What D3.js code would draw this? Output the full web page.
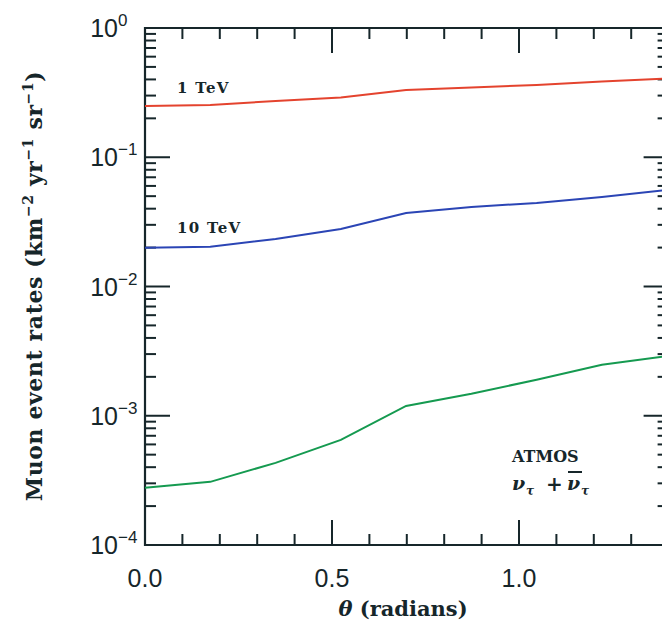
<!DOCTYPE html>
<html><head><meta charset="utf-8">
<script src="https://cdn.jsdelivr.net/npm/d3@7"></script>
<style>body{margin:0;background:#fff}svg{display:block}</style>
</head><body>
<svg id="c" width="662" height="622"></svg>
<script>
const theta = [0, 0.1745, 0.3491, 0.5236, 0.6981, 0.8727, 1.0472, 1.2217, 1.3963];
const rate1TeV  = [0.249, 0.254, 0.272, 0.290, 0.331, 0.347, 0.362, 0.386, 0.407];
const rate10TeV = [0.0199, 0.0203, 0.0233, 0.0279, 0.0371, 0.0413, 0.0443, 0.0493, 0.0558];
const rateLow   = [0.000277, 0.000308, 0.000432, 0.00065, 0.00119, 0.00148, 0.0019, 0.00248, 0.0029];
const seriesNames = ["1 TeV", "10 TeV", ""];
const xTickLabels = ["0.0", "0.5", "1.0"];
const yTickExps = ["0", "−1", "−2", "−3", "−4"];

const svg = d3.select("#c");
const x = d3.scaleLinear().domain([0, 1.4]).range([145, 668.6]);
const y = d3.scaleLog().domain([1e-4, 1]).range([545, 28]);
const axisCol = "#16262a";

// frame
const [x0, x1] = x.range(), [yb, yt] = y.range();
svg.append("path").attr("d", `M${x1},${yt}H${x0}V${yb}H${x1}V${yt}`)
  .attr("fill", "none").attr("stroke", axisCol).attr("stroke-width", 2.2);

// y ticks
const yMajor = [1, 0.1, 0.01, 0.001, 0.0001];
const yMinor = [];
[0.0001, 0.001, 0.01, 0.1].forEach(d => { for (let k = 2; k <= 9; k++) yMinor.push(d * k); });
const tg = svg.append("g").attr("stroke", axisCol).attr("stroke-width", 2);
yMajor.forEach(v => {
  tg.append("line").attr("x1", x0).attr("x2", x0 + 25).attr("y1", y(v)).attr("y2", y(v));
  tg.append("line").attr("x1", x1).attr("x2", x1 - 25).attr("y1", y(v)).attr("y2", y(v));
});
yMinor.forEach(v => {
  tg.append("line").attr("x1", x0).attr("x2", x0 + 11).attr("y1", y(v)).attr("y2", y(v));
  tg.append("line").attr("x1", x1).attr("x2", x1 - 11).attr("y1", y(v)).attr("y2", y(v));
});
// x ticks
const xMajor = [0, 0.5, 1.0];
const xMinor = d3.range(1, 14).map(i => i / 10).filter(v => Math.abs(v - 0.5) > 1e-6 && Math.abs(v - 1) > 1e-6);
xMajor.forEach(v => {
  tg.append("line").attr("x1", x(v)).attr("x2", x(v)).attr("y1", yb).attr("y2", yb - 25);
  tg.append("line").attr("x1", x(v)).attr("x2", x(v)).attr("y1", yt).attr("y2", yt + 25);
});
xMinor.forEach(v => {
  tg.append("line").attr("x1", x(v)).attr("x2", x(v)).attr("y1", yb).attr("y2", yb - 11);
  tg.append("line").attr("x1", x(v)).attr("x2", x(v)).attr("y1", yt).attr("y2", yt + 11);
});

// tick labels
const numFont = "'Liberation Sans', Arial, sans-serif";
xMajor.forEach((v, i) => {
  svg.append("text").attr("x", x(v)).attr("y", 587).attr("text-anchor", "middle")
    .attr("font-family", numFont).attr("font-size", 25).attr("fill", axisCol).text(xTickLabels[i]);
});
yMajor.forEach((v, i) => {
  svg.append("text").attr("x", 118).attr("y", y(v) + 9).attr("text-anchor", "end")
    .attr("font-family", numFont).attr("font-size", 25).attr("fill", axisCol).text("10");
  svg.append("text").attr("x", 118).attr("y", y(v) - 2).attr("text-anchor", "start")
    .attr("font-family", numFont).attr("font-size", 17).attr("fill", axisCol).text(yTickExps[i]);
});

// lines
const serif = "'DejaVu Serif', serif";
const line = d3.line().x((d, i) => x(theta[i])).y(d => y(d));
const series = [
  {vals: rate1TeV, color: "#e4432e"},
  {vals: rate10TeV, color: "#2b45b5"},
  {vals: rateLow, color: "#159a50"}
];
series.forEach(s => {
  svg.append("path").datum(s.vals).attr("d", line).attr("fill", "none")
    .attr("stroke", s.color).attr("stroke-width", 2);
});

// series labels
svg.append("text").attr("x", 177).attr("y", 93).attr("font-family", serif).attr("font-weight", "bold")
  .attr("font-size", 15).attr("letter-spacing", 1.3).attr("fill", axisCol).text(seriesNames[0]);
svg.append("text").attr("x", 177).attr("y", 233).attr("font-family", serif).attr("font-weight", "bold")
  .attr("font-size", 15).attr("letter-spacing", 1.3).attr("fill", axisCol).text(seriesNames[1]);

// ATMOS annotation
svg.append("text").attr("x", 512).attr("y", 462).attr("font-family", serif).attr("font-weight", "bold")
  .attr("font-size", 16).attr("fill", axisCol).text("ATMOS");
const nuG = svg.append("g").attr("font-family", serif).attr("font-weight", "bold").attr("fill", axisCol);
nuG.append("text").attr("x", 512).attr("y", 490).attr("font-style", "italic").attr("font-size", 19).text("ν");
nuG.append("text").attr("x", 526).attr("y", 495).attr("font-style", "italic").attr("font-size", 12).text("τ");
nuG.append("text").attr("x", 546).attr("y", 491).attr("font-size", 20).text("+");
nuG.append("text").attr("x", 567).attr("y", 490).attr("font-style", "italic").attr("font-size", 19).text("ν");
nuG.append("line").attr("x1", 568).attr("x2", 582).attr("y1", 472).attr("y2", 472)
  .attr("stroke", axisCol).attr("stroke-width", 2);
nuG.append("text").attr("x", 581).attr("y", 495).attr("font-style", "italic").attr("font-size", 12).text("τ");

// axis titles
const xt = svg.append("text").attr("x", 403).attr("y", 616).attr("text-anchor", "middle")
  .attr("font-family", serif).attr("font-weight", "bold").attr("font-size", 21).attr("fill", axisCol);
xt.append("tspan").attr("font-style", "italic").text("θ");
xt.append("tspan").text(" (radians)");

const yt2 = svg.append("text").attr("transform", "translate(42,286) rotate(-90)").attr("text-anchor", "middle")
  .attr("font-family", serif).attr("font-weight", "bold").attr("font-size", 22).attr("letter-spacing", 0.6)
  .attr("fill", axisCol);
yt2.append("tspan").text("Muon event rates  (km");
yt2.append("tspan").attr("font-size", 14).attr("dy", -9).text("−2");
yt2.append("tspan").attr("dy", 9).text(" yr");
yt2.append("tspan").attr("font-size", 14).attr("dy", -9).text("−1");
yt2.append("tspan").attr("dy", 9).text(" sr");
yt2.append("tspan").attr("font-size", 14).attr("dy", -9).text("−1");
yt2.append("tspan").attr("dy", 9).text(")");
</script>
</body></html>
